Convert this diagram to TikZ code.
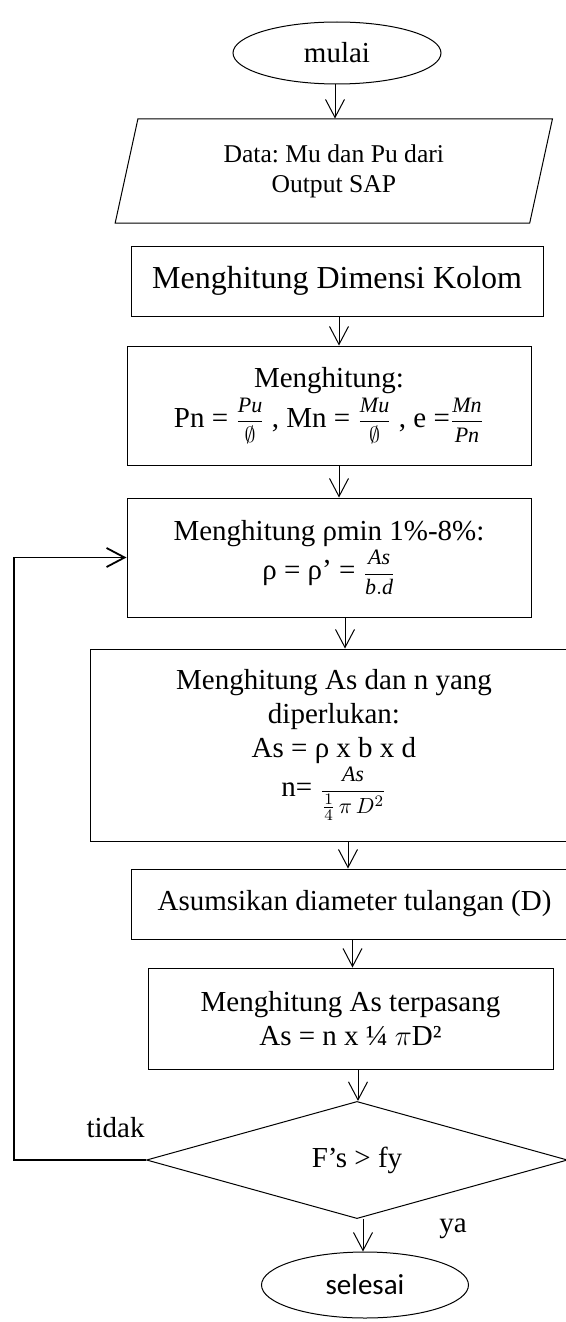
\documentclass[tikz,border=0pt]{standalone}
\usepackage{amsmath}
\usepackage{fontspec}
\setmainfont{Liberation Serif}
\newfontfamily\calibri{Carlito}
\usetikzlibrary{shapes.geometric,arrows.meta}
\newcommand{\pecahan}[2]{{\fontsize{11}{12}\selectfont$\dfrac{#1}{#2}$}}
\frenchspacing

\begin{document}
\begin{tikzpicture}[node distance=60pt, auto,
        font=\fontsize{14.5}{17}\selectfont,
        block/.style={rectangle, draw, line width=0.5pt, align=center, inner sep=0pt},
        io/.style={trapezium, trapezium left angle=76.5, trapezium right angle=103.5, trapezium stretches=true, draw, line width=0.5pt, align=center, inner sep=0pt},
        terminal/.style={ellipse, draw, line width=0.5pt, inner sep=0pt},
        decision/.style={diamond, draw, line width=0.5pt, inner sep=0pt},
        line/.style={draw, line width=0.5pt, -{Straight Barb[length=9pt,width=9.5pt]}},
        loop/.style={draw, line width=0.9pt, -{Straight Barb[length=9pt,width=9.5pt]}}]

    \useasboundingbox (0,0) rectangle (283pt,-661pt);

    \node [terminal, minimum width=104pt, minimum height=31pt] (mulai) at (168.5pt,-26.5pt) {mulai};
    \node [io, node distance=59pt, below of=mulai, xshift=-1.6pt, minimum width=219pt, minimum height=52pt, font=\fontsize{12.8}{15}\selectfont] (data) {Data: Mu dan Pu dari\\Output SAP};
    \node [block, node distance=55pt, below of=data, xshift=1.6pt, minimum width=206pt, minimum height=35pt, font=\fontsize{16}{18}\selectfont] (dimensi) {Menghitung Dimensi Kolom};
    \node [block, node distance=62.25pt, below of=dimensi, xshift=-4pt, minimum width=202pt, minimum height=59.5pt] (gaya) {Menghitung:\\[1pt] Pn = \pecahan{\mathit{Pu}}{\emptyset} , Mn = \pecahan{\mathit{Mu}}{\emptyset} , e =\pecahan{\mathit{Mn}}{\mathit{Pn}}};
    \node [block, node distance=76pt, below of=gaya, minimum width=202pt, minimum height=59.5pt] (rasio) {Menghitung ρmin 1\%-8\%:\\[1pt] ρ = ρ’ = \pecahan{\mathit{As}}{\mathit{b.d}}};
    \node [block, node distance=93.75pt, below of=rasio, xshift=2.5pt, minimum width=244pt, minimum height=96pt] (perlu) {Menghitung As dan n yang\\ diperlukan:\\ As = ρ x b x d\\[1pt] n= \pecahan{\mathit{As}}{\frac{1}{4}\,\pi\,D^{2}}};
    \node [block, node distance=79.5pt, below of=perlu, xshift=10.25pt, minimum width=223.5pt, minimum height=35pt] (diameter) {Asumsikan diameter tulangan (D)};
    \node [block, node distance=57.25pt, below of=diameter, xshift=-2pt, minimum width=202.5pt, minimum height=50.5pt] (pasang) {Menghitung As terpasang\\ As = n x ¼ $\pi$D²};
    \node [decision, node distance=70.75pt, below of=pasang, xshift=3.25pt, minimum width=210.5pt, minimum height=58.5pt] (cek) {F’s > fy};
    \node [terminal, node distance=62.5pt, below of=cek, xshift=4pt, minimum width=103.5pt, minimum height=33pt] (selesai) {\calibri selesai};

    \path [line] ([xshift=-1pt]mulai.south) -- ([xshift=-1pt]mulai.south |- data.north);
    \path [line] ([xshift=1pt]dimensi.south) -- ([xshift=1pt]dimensi.south |- gaya.north);
    \path [line] ([xshift=5pt]gaya.south) -- ([xshift=5pt]gaya.south |- rasio.north);
    \path [line] ([xshift=8pt]rasio.south) -- ([xshift=8pt]rasio.south |- perlu.north);
    \path [line] ([xshift=7pt]perlu.south) -- ([xshift=7pt]perlu.south |- diameter.north);
    \path [line] ([xshift=-1pt]diameter.south) -- ([xshift=-1pt]diameter.south |- pasang.north);
    \path [line] ([xshift=3.75pt]pasang.south) -- ([xshift=3.75pt]pasang.south |- cek.north);
    \path [line] ([xshift=3pt]cek.south) -- ([xshift=3pt]cek.south |- selesai.north);

    % kembali ke perhitungan rasio
    \path [loop] (cek.west) -- ++(-66pt,0) |- (rasio.west);
    \node [anchor=base east, inner sep=0pt] (tidak) at ([xshift=-0.5pt,yshift=11.5pt]cek.west) {tidak};
    \node [anchor=base west, inner sep=0pt] (ya) at ([xshift=41pt,yshift=-6.5pt]cek.south) {ya};
\end{tikzpicture}
\end{document}
